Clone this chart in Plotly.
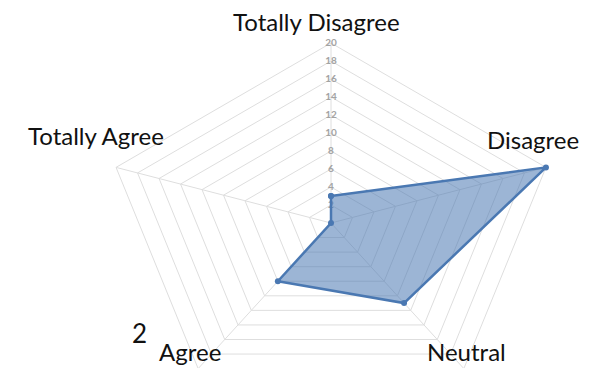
import numpy as np
import plotly.graph_objects as go

categories = ["Totally Disagree", "Disagree", "Neutral", "Agree", "Totally Agree"]
values = [3, 20, 11, 8, 0]
tick_vals = [2, 4, 6, 8, 10, 12, 14, 16, 18, 20]
tick_text = ["2", "4", "6", "8", "10", "12", "14", "16", "18", "20"]
r_max = 20

# the page body has an 8px margin, so the figure is drawn 8px smaller
# and every pixel position below is measured in window pixels minus 8
OFF = 8
W, H = 596 - OFF, 368 - OFF
cx, cy = 331 - OFF, 223 - OFF   # centre of the radar
sx, sy = 11.3, 9.0              # pixels per unit (the original is stretched sideways)

# spokes go clockwise starting at the top
angles = np.deg2rad(90 - 72 * np.arange(len(categories)))


def to_xy(r):
    r = np.asarray(r, dtype=float)
    return r * np.cos(angles), r * np.sin(angles)


grid_col = "#dedede"
line_col = "#4a78b2"

fig = go.Figure()

# pentagon gridlines
gx, gy = [], []
for t in tick_vals:
    x, y = to_xy([t] * len(categories))
    gx += list(x) + [x[0], None]
    gy += list(y) + [y[0], None]
fig.add_trace(go.Scatter(x=gx, y=gy, mode="lines",
                         line=dict(color=grid_col, width=1), hoverinfo="skip"))

# spokes
ox, oy = to_xy([r_max] * len(categories))
spx, spy = [], []
for a, b in zip(ox, oy):
    spx += [0, a, None]
    spy += [0, b, None]
fig.add_trace(go.Scatter(x=spx, y=spy, mode="lines",
                         line=dict(color=grid_col, width=1), hoverinfo="skip"))

# radial tick labels on the top spoke
fig.add_trace(go.Scatter(
    x=[0] * len(tick_vals), y=tick_vals, mode="text", text=tick_text,
    textposition="middle center",
    textfont=dict(family="Lato", size=10, color="#a3a3a3", weight="bold"),
    hoverinfo="skip"))

# data
dx, dy = to_xy(values)
fig.add_trace(go.Scatter(
    x=list(dx) + [dx[0]], y=list(dy) + [dy[0]],
    mode="lines+markers", fill="toself",
    fillcolor="rgba(74,120,178,0.55)",
    line=dict(color=line_col, width=2.5),
    marker=dict(color=line_col, size=6),
    hoverinfo="skip"))

# category labels (window pixel positions)
label_pos = [(316, 22), (533, 139), (466, 351), (190, 351), (96, 135)]
for name, (px, py) in zip(categories, label_pos):
    fig.add_annotation(x=(px - OFF) / W, y=1 - (py - OFF) / H,
                       xref="paper", yref="paper",
                       text=name, showarrow=False, borderpad=0,
                       font=dict(family="Lato", size=24, color="#111111"),
                       xanchor="center", yanchor="middle")

fig.add_annotation(x=(139 - OFF) / W, y=1 - (333 - OFF) / H,
                   xref="paper", yref="paper",
                   text="2", showarrow=False,
                   font=dict(family="Lato", size=26, color="#111111"),
                   xanchor="center", yanchor="middle")

fig.update_layout(
    width=W, height=H,
    margin=dict(l=0, r=0, t=0, b=0),
    paper_bgcolor="white", plot_bgcolor="white",
    showlegend=False,
    xaxis=dict(range=[-cx / sx, (W - cx) / sx], visible=False, fixedrange=True),
    yaxis=dict(range=[-(H - cy) / sy, cy / sy], visible=False, fixedrange=True),
)

fig.write_html("out.html")
